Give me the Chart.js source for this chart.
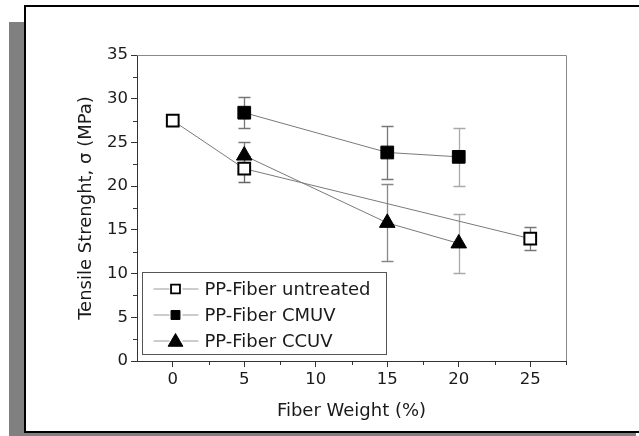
<!DOCTYPE html>
<html><head><meta charset="utf-8">
<script src="https://cdn.jsdelivr.net/npm/chart.js@4.4.0/dist/chart.umd.min.js"></script>
<style>
html,body{margin:0;padding:0;width:639px;height:436px;overflow:hidden;background:#fff;}
#shadow{position:absolute;left:9px;top:22px;width:627px;height:500px;background:#808080;}
#frame{position:absolute;left:24px;top:5px;width:700px;height:424px;border:2px solid #000;background:#fff;}
#wrap{position:absolute;left:0;top:0;width:639px;height:436px;}
canvas{display:block;}
</style></head>
<body>
<div id="shadow"></div><div id="frame"></div>
<div id="wrap"><canvas id="c" width="639" height="436" style="width:639px;height:436px"></canvas></div>
<script>
// ---- data ----
const xTicks = [0, 5, 10, 15, 20, 25];
const yTicks = [0, 5, 10, 15, 20, 25, 30, 35];
const xMinorTicks = [2.5, 7.5, 12.5, 17.5, 22.5, 27.5];
const yMinorTicks = [2.5, 7.5, 12.5, 17.5, 22.5, 27.5, 32.5];
const seriesNames = ['PP-Fiber untreated', 'PP-Fiber CMUV', 'PP-Fiber CCUV'];

const untreatedX = [0, 5, 25];
const untreatedY = [27.5, 22.0, 14.0];
const untreatedErr = [0, 1.5, 1.35];

const cmuvX = [5, 15, 20];
const cmuvY = [28.4, 23.85, 23.35];
const cmuvErr = [1.8, 3.0, 3.35];

const ccuvX = [5, 15, 20];
const ccuvY = [23.5, 15.8, 13.45];
const ccuvErr = [1.6, 4.4, 3.35];

const xTitle = 'Fiber Weight (%)';
const yTitle = 'Tensile Strenght, \u03c3 (MPa)';

// ---- styles ----
const FONT = "'DejaVu Sans', sans-serif";
const TEXT = '#1a1a1a';
const errColors = [
  ['#777', '#666', '#777'],
  ['#777', '#777', '#aaa'],
  ['#777', '#888', '#aaa']
];

function pts(xs, ys) { return xs.map((x, i) => ({x: x, y: ys[i]})); }

const errs = [untreatedErr, cmuvErr, ccuvErr];

const errorBarPlugin = {
  id: 'errorBars',
  beforeDatasetsDraw(chart) {
    const ctx = chart.ctx;
    const xs = chart.scales.x, ys = chart.scales.y;
    ctx.save();
    ctx.lineWidth = 1.3;
    chart.data.datasets.forEach((ds, di) => {
      ds.data.forEach((p, i) => {
        const e = errs[di][i];
        if (!e) return;
        const px = Math.round(xs.getPixelForValue(p.x)) + 0.5;
        const yt = Math.round(ys.getPixelForValue(p.y + e)) + 0.5;
        const yb = Math.round(ys.getPixelForValue(p.y - e)) + 0.5;
        ctx.strokeStyle = errColors[di][i];
        ctx.beginPath();
        ctx.moveTo(px, yt); ctx.lineTo(px, yb);
        ctx.moveTo(px - 6, yt); ctx.lineTo(px + 6, yt);
        ctx.moveTo(px - 6, yb); ctx.lineTo(px + 6, yb);
        ctx.stroke();
      });
    });
    // top and right frame of plot box
    const a = chart.chartArea;
    ctx.strokeStyle = '#888';
    ctx.lineWidth = 1;
    ctx.beginPath();
    ctx.moveTo(Math.round(a.left), Math.round(a.top) + 0.5);
    ctx.lineTo(Math.round(a.right) + 0.5, Math.round(a.top) + 0.5);
    ctx.lineTo(Math.round(a.right) + 0.5, Math.round(a.bottom));
    ctx.stroke();
    ctx.restore();
  }
};

const minorTickPlugin = {
  id: 'minorTicks',
  afterDraw(chart) {
    const ctx = chart.ctx;
    const xs = chart.scales.x, ys = chart.scales.y;
    const a = chart.chartArea;
    ctx.save();
    ctx.strokeStyle = '#333';
    ctx.lineWidth = 1;
    ctx.beginPath();
    xMinorTicks.forEach(v => {
      const px = Math.round(xs.getPixelForValue(v)) + 0.5;
      ctx.moveTo(px, a.bottom); ctx.lineTo(px, a.bottom + 4);
    });
    yMinorTicks.forEach(v => {
      const py = Math.round(ys.getPixelForValue(v)) + 0.5;
      ctx.moveTo(a.left - 4, py); ctx.lineTo(a.left, py);
    });
    ctx.stroke();
    ctx.restore();
  }
};

const legendPlugin = {
  id: 'customLegend',
  afterDraw(chart) {
    const ctx = chart.ctx;
    const a = chart.chartArea;
    const bx = Math.round(a.left) + 5.5, bw = 244, bh = 82;
    const by = Math.round(a.bottom) - 6.5 - bh;
    ctx.save();
    ctx.strokeStyle = '#555';
    ctx.lineWidth = 1;
    ctx.strokeRect(bx, by, bw, bh);
    const rowH = 26;
    chart.data.datasets.forEach((ds, i) => {
      const cy = by + 16.5 + i * rowH;
      const mx = bx + 33;
      ctx.strokeStyle = '#999';
      ctx.lineWidth = 1;
      ctx.beginPath();
      ctx.moveTo(bx + 11, cy); ctx.lineTo(mx - 6, cy);
      ctx.moveTo(mx + 7, cy); ctx.lineTo(bx + 56, cy);
      ctx.stroke();
      ctx.fillStyle = ds.pointBackgroundColor;
      ctx.strokeStyle = ds.pointBorderColor;
      ctx.lineWidth = ds.pointStyle === 'rect' && ds.pointBackgroundColor === '#ffffff' ? 1.8 : 1;
      const r = ds.pointStyle === 'triangle' ? 8.5 : 6.3;
      Chart.helpers.drawPoint(ctx, {pointStyle: ds.pointStyle, rotation: 0, radius: r, borderWidth: ctx.lineWidth}, mx, ds.pointStyle === 'triangle' ? cy + 1 : cy);
      ctx.fillStyle = TEXT;
      ctx.font = '18px ' + FONT;
      ctx.textBaseline = 'middle';
      ctx.textAlign = 'left';
      ctx.fillText(seriesNames[i], bx + 62, cy + 1);
    });
    ctx.restore();
  }
};

new Chart(document.getElementById('c'), {
  type: 'line',
  data: {
    datasets: [
      {
        label: seriesNames[0], data: pts(untreatedX, untreatedY),
        borderColor: '#7a7a7a', borderWidth: 1, showLine: true,
        pointStyle: 'rect', pointRadius: 8.3, pointBorderWidth: 2,
        pointBackgroundColor: '#ffffff', pointBorderColor: '#000000'
      },
      {
        label: seriesNames[1], data: pts(cmuvX, cmuvY),
        borderColor: '#7a7a7a', borderWidth: 1, showLine: true,
        pointStyle: 'rect', pointRadius: 9, pointBorderWidth: 1,
        pointBackgroundColor: '#000000', pointBorderColor: '#000000'
      },
      {
        label: seriesNames[2], data: pts(ccuvX, ccuvY),
        borderColor: '#7a7a7a', borderWidth: 1, showLine: true,
        pointStyle: 'triangle', pointRadius: 9, pointBorderWidth: 1,
        pointBackgroundColor: '#000000', pointBorderColor: '#000000'
      }
    ]
  },
  options: {
    responsive: false,
    animation: false,
    devicePixelRatio: 1,
    events: [],
    layout: {padding: {left: 0, top: 55, right: 73, bottom: 0}},
    plugins: {legend: {display: false}, title: {display: false}, tooltip: {enabled: false}},
    scales: {
      x: {
        type: 'linear', position: 'bottom', min: -2.5, max: 27.5,
        afterBuildTicks: s => { s.ticks = xTicks.map(v => ({value: v})); },
        afterFit: s => { s.height = 75; },
        grid: {drawOnChartArea: false, drawTicks: true, tickLength: 6, color: '#333', lineWidth: 1},
        border: {display: true, color: '#333', width: 1},
        ticks: {font: {family: FONT, size: 16.5}, color: TEXT, padding: 3, maxRotation: 0, autoSkip: false},
        title: {display: true, text: xTitle, color: TEXT, font: {family: FONT, size: 18}, padding: {top: 0, bottom: 14}}
      },
      y: {
        type: 'linear', position: 'left', min: 0, max: 35,
        afterBuildTicks: s => { s.ticks = yTicks.map(v => ({value: v})); },
        afterFit: s => { s.width = 137; },
        grid: {drawOnChartArea: false, drawTicks: true, tickLength: 6, color: '#333', lineWidth: 1},
        border: {display: true, color: '#333', width: 1},
        ticks: {font: {family: FONT, size: 16.5}, color: TEXT, padding: 3, autoSkip: false},
        title: {display: true, text: yTitle, color: TEXT, font: {family: FONT, size: 18}, padding: {top: 76, bottom: 0}}
      }
    }
  },
  plugins: [errorBarPlugin, minorTickPlugin, legendPlugin]
});
</script>
</body></html>
